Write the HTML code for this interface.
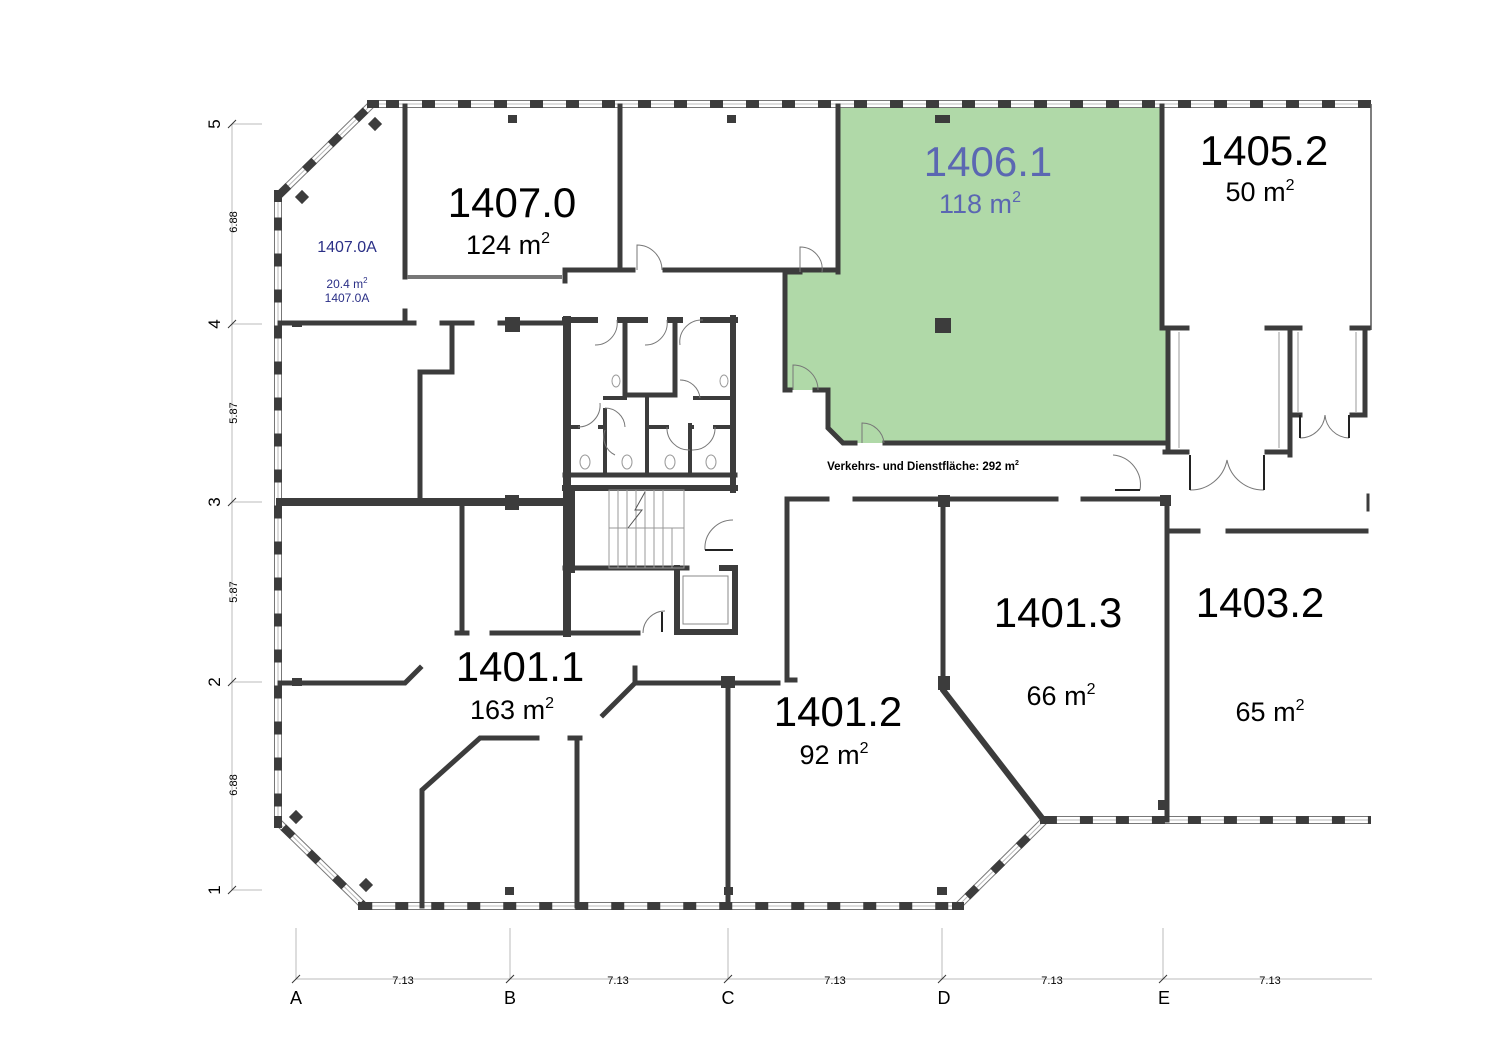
<!DOCTYPE html>
<html><head><meta charset="utf-8"><style>
html,body{margin:0;padding:0;background:#fff;width:1500px;height:1060px;overflow:hidden}
svg{display:block}
text{font-family:"Liberation Sans",Arial,sans-serif}
</style></head><body>
<svg width="1500" height="1060" viewBox="0 0 1500 1060" xmlns="http://www.w3.org/2000/svg">
<!-- green room -->
<polygon points="838,107 1162,107 1162,328 1168,328 1168,443 843,443 828,428 828,390 785,390 785,272 838,272" fill="#b0d9a8"/>

<!-- facade -->
<g fill="none" stroke-linejoin="miter">
<path d="M1371,104 L372,104 L278,196 L278,822 L364,906 L958,906 L1045,820 L1371,820" stroke="#777" stroke-width="8"/>
<path d="M1371,104 L372,104 L278,196 L278,822 L364,906 L958,906 L1045,820 L1371,820" stroke="#fff" stroke-width="6"/>
<path d="M1371,104 L372,104 L278,196 L278,822 L364,906 L958,906 L1045,820 L1371,820" stroke="#bbb" stroke-width="1"/>
<path d="M1371,104 L372,104 L278,196 L278,822 L364,906 L958,906 L1045,820 L1371,820" stroke="#3c3c3c" stroke-width="8" stroke-dasharray="13 23"/>
</g>
<g fill="#3c3c3c">
<rect x="367" y="100" width="12" height="8"/><rect x="274" y="190" width="8" height="12"/><rect x="274" y="816" width="8" height="12"/><rect x="358" y="902" width="12" height="8"/><rect x="952" y="902" width="12" height="8"/><rect x="1040" y="816" width="10" height="8"/>
</g>
<line x1="1371" y1="104" x2="1371" y2="330" stroke="#555" stroke-width="1.5"/>

<!-- interior walls -->
<g stroke="#3c3c3c" stroke-width="5" fill="none" stroke-linecap="square">
<!-- 1407.0 -->
<line x1="405" y1="106" x2="405" y2="277"/>
<line x1="620" y1="106" x2="620" y2="270"/>
<line x1="838" y1="106" x2="838" y2="272"/>
<line x1="565" y1="270" x2="633" y2="270"/>
<line x1="665" y1="270" x2="838" y2="270"/>
<line x1="565" y1="270" x2="565" y2="281"/>
<!-- green room walls -->
<polyline points="1162,106 1162,328"/>
<polyline points="800,272 785,272 785,390 790,390"/>
<polyline points="815,390 828,390 828,428 843,443 855,443"/>
<line x1="885" y1="443" x2="1168" y2="443"/>
<line x1="1168" y1="330" x2="1168" y2="452"/>
<!-- 1405.2 corridor pieces -->
<line x1="1165" y1="328" x2="1187" y2="328"/>
<line x1="1267" y1="328" x2="1300" y2="328"/>
<line x1="1352" y1="328" x2="1368" y2="328"/>
<line x1="1165" y1="452" x2="1187" y2="452"/>
<line x1="1267" y1="452" x2="1290" y2="452"/>
<line x1="1290" y1="328" x2="1290" y2="455"/>
<line x1="1290" y1="415" x2="1300" y2="415"/>
<line x1="1365" y1="328" x2="1365" y2="415"/>
<line x1="1352" y1="415" x2="1365" y2="415"/>
<!-- row 4 -->
<line x1="280" y1="323" x2="414" y2="323"/>
<line x1="405" y1="311" x2="405" y2="323"/>
<line x1="442" y1="323" x2="472" y2="323"/>
<line x1="500" y1="323" x2="565" y2="323"/>
<polyline points="452,323 452,372 420,372 420,502"/>
<!-- row 3 -->
<line x1="280" y1="502" x2="565" y2="502" stroke-width="8"/>
<line x1="462" y1="502" x2="462" y2="633"/>
<line x1="457" y1="633" x2="467" y2="633"/>
<line x1="492" y1="633" x2="638" y2="633"/>
<!-- core -->
<line x1="567" y1="320" x2="567" y2="633" stroke-width="8"/>
<line x1="733" y1="318" x2="733" y2="490" stroke-width="6"/>
<line x1="565" y1="320" x2="595" y2="320" stroke-width="6"/>
<line x1="620" y1="320" x2="645" y2="320" stroke-width="6"/>
<line x1="670" y1="320" x2="680" y2="320" stroke-width="6"/>
<line x1="703" y1="320" x2="735" y2="320" stroke-width="6"/>
<polyline points="625,320 625,395 675,395 675,320" stroke-width="5"/>
<line x1="605" y1="398" x2="625" y2="398" stroke-width="4"/>
<line x1="695" y1="398" x2="733" y2="398" stroke-width="4"/>
<line x1="647" y1="398" x2="647" y2="475" stroke-width="4"/>
<line x1="565" y1="427" x2="578" y2="427" stroke-width="4"/>
<line x1="600" y1="427" x2="605" y2="427" stroke-width="4"/>
<line x1="605" y1="410" x2="605" y2="475" stroke-width="4"/>
<line x1="647" y1="427" x2="667" y2="427" stroke-width="4"/>
<line x1="690" y1="427" x2="692" y2="427" stroke-width="4"/>
<line x1="690" y1="425" x2="690" y2="475" stroke-width="4"/>
<line x1="715" y1="427" x2="733" y2="427" stroke-width="4"/>
<line x1="565" y1="475" x2="735" y2="475" stroke-width="5"/>
<line x1="565" y1="488" x2="735" y2="488" stroke-width="6"/>
<line x1="570" y1="490" x2="570" y2="568" stroke-width="10"/>
<line x1="565" y1="568" x2="687" y2="568" stroke-width="5"/>
<polyline points="677,568 677,632 735,632 735,568 722,568" stroke-width="6"/>
<line x1="562" y1="633" x2="638" y2="633" stroke-width="5"/>
<!-- row 2 -->
<polyline points="280,683 405,683 420,668"/>
<line x1="603" y1="715" x2="635" y2="683"/>
<line x1="635" y1="683" x2="778" y2="683"/>
<line x1="635" y1="668" x2="635" y2="683"/>
<polyline points="537,738 480,738 422,790 422,906"/>
<line x1="570" y1="738" x2="580" y2="738"/>
<line x1="577" y1="738" x2="577" y2="906"/>
<line x1="728" y1="683" x2="728" y2="906"/>
<!-- 1401.2 / 1401.3 -->
<polyline points="795,680 787,680 787,499 827,499"/>
<line x1="855" y1="499" x2="1056" y2="499"/>
<line x1="1083" y1="499" x2="1168" y2="499"/>
<line x1="943" y1="499" x2="943" y2="682"/>
<polyline points="943,685 943,690 1042,818" stroke-width="6"/>
<line x1="1167" y1="499" x2="1167" y2="820"/>
<line x1="1167" y1="531" x2="1198" y2="531"/>
<line x1="1228" y1="531" x2="1366" y2="531"/>
<line x1="1368" y1="495" x2="1368" y2="510" stroke-width="3"/>
</g>
<!-- gray wall 1407.0 -->
<line x1="407" y1="277" x2="562" y2="277" stroke="#777" stroke-width="4"/>

<!-- columns -->
<g fill="#3c3c3c">
<rect x="508" y="115" width="9" height="8"/><rect x="727" y="115" width="9" height="8"/><rect x="935" y="115" width="15" height="8"/>
<rect x="935" y="318" width="16" height="15"/>
<rect x="505" y="317" width="15" height="15"/><rect x="505" y="495" width="14" height="15"/>
<rect x="292" y="321" width="10" height="6"/><rect x="292" y="678" width="10" height="8"/>
<rect x="721" y="676" width="14" height="12"/><rect x="938" y="676" width="12" height="14"/>
<rect x="938" y="495" width="12" height="12"/><rect x="1160" y="495" width="11" height="11"/>
<rect x="505" y="887" width="9" height="8"/><rect x="724" y="887" width="9" height="8"/><rect x="937" y="887" width="10" height="8"/>
<rect x="1158" y="800" width="7" height="10"/>
<rect x="370" y="119" width="10" height="10" transform="rotate(45 375 124)"/>
<rect x="297" y="192" width="10" height="10" transform="rotate(45 302 197)"/>
<rect x="291" y="812" width="10" height="10" transform="rotate(45 296 817)"/>
<rect x="361" y="880" width="10" height="10" transform="rotate(45 366 885)"/>
</g>

<!-- window frames in 1405 -->
<g stroke="#aaa" stroke-width="1.2">
<line x1="1179" y1="332" x2="1179" y2="448"/><line x1="1279" y1="332" x2="1279" y2="448"/>
<line x1="1298" y1="332" x2="1298" y2="412"/><line x1="1356" y1="332" x2="1356" y2="412"/>
</g>
<!-- doors -->
<g fill="none" stroke="#777" stroke-width="1">
<path d="M637,270 L637,245 A25,25 0 0 1 662,270"/>
<path d="M800,272 L800,247 A22,22 0 0 1 822,272"/>
<path d="M793,390 L793,365 A25,25 0 0 1 818,390"/>
<path d="M862,443 L862,423 A22,22 0 0 1 884,443"/>
<path d="M1190,490 A37,37 0 0 0 1227,460 A37,37 0 0 0 1264,490"/>
<path d="M1300,438 A25,25 0 0 0 1325,415 A25,25 0 0 0 1349,438"/>
<path d="M1113,455 A30,30 0 0 1 1140,490"/>
<path d="M705,550 A28,28 0 0 1 733,520"/>
<path d="M643,633 A22,22 0 0 1 665,611"/>
<path d="M595,345 A22,22 0 0 0 617,320"/><path d="M645,345 A22,22 0 0 0 667,320"/><path d="M680,345 A22,22 0 0 1 703,320"/>
<path d="M578,427 A22,22 0 0 0 600,403"/><path d="M605,408 A20,20 0 0 1 625,427"/>
<path d="M680,380 A20,20 0 0 1 700,398"/><path d="M667,427 A22,22 0 0 0 690,450"/><path d="M692,450 A22,22 0 0 0 715,427"/>
<path d="M615,455 A20,20 0 0 1 605,430"/>
</g>
<g stroke="#222" stroke-width="2">
<line x1="1190" y1="455" x2="1190" y2="490"/><line x1="1264" y1="455" x2="1264" y2="490"/>
<line x1="1300" y1="415" x2="1300" y2="438"/><line x1="1349" y1="415" x2="1349" y2="438"/>
<line x1="1115" y1="490" x2="1140" y2="490"/><line x1="705" y1="550" x2="733" y2="550"/>
<line x1="662" y1="612" x2="662" y2="632"/>
</g>
<!-- stairs -->
<g stroke="#999" stroke-width="1">
<rect x="609" y="490" width="75" height="78" fill="none"/>
<line x1="609" y1="528" x2="684" y2="528"/>
<line x1="618" y1="490" x2="618" y2="568"/><line x1="627" y1="490" x2="627" y2="568"/><line x1="636" y1="490" x2="636" y2="568"/><line x1="645" y1="490" x2="645" y2="568"/><line x1="654" y1="490" x2="654" y2="568"/><line x1="663" y1="490" x2="663" y2="568"/><line x1="672" y1="528" x2="672" y2="568"/>
<polyline points="645,492 635,510 642,510 628,528" fill="none" stroke="#555"/>
<rect x="683" y="576" width="45" height="48" fill="none" stroke="#888"/>
</g>
<!-- toilets / sinks -->
<g fill="none" stroke="#999" stroke-width="1">
<ellipse cx="585" cy="462" rx="5" ry="7"/><ellipse cx="627" cy="462" rx="5" ry="7"/><ellipse cx="670" cy="462" rx="5" ry="7"/><ellipse cx="711" cy="462" rx="5" ry="7"/>
<ellipse cx="616" cy="381" rx="4" ry="6"/><ellipse cx="724" cy="381" rx="4" ry="6"/>
</g>

<!-- room labels -->
<g text-anchor="middle">
<text x="512" y="217" font-size="42">1407.0</text>
<text x="508" y="254" font-size="27">124 m<tspan font-size="16" dy="-11">2</tspan></text>
<text x="347" y="252" font-size="16" fill="#2a2f86">1407.0A</text>
<text x="347" y="288" font-size="12" fill="#2a2f86">20.4 m<tspan font-size="8" dy="-5">2</tspan></text>
<text x="347" y="302" font-size="12" fill="#2a2f86">1407.0A</text>
<text x="988" y="176" font-size="42" fill="#5b67b2">1406.1</text>
<text x="980" y="213" font-size="27" fill="#5b67b2">118 m<tspan font-size="16" dy="-11">2</tspan></text>
<text x="1264" y="165" font-size="42">1405.2</text>
<text x="1260" y="201" font-size="27">50 m<tspan font-size="16" dy="-11">2</tspan></text>
<text x="923" y="470" font-size="11.5" font-weight="bold">Verkehrs- und Dienstfläche: 292 m<tspan font-size="7" dy="-5">2</tspan></text>
<text x="520" y="681" font-size="42">1401.1</text>
<text x="512" y="719" font-size="27">163 m<tspan font-size="16" dy="-11">2</tspan></text>
<text x="838" y="726" font-size="42">1401.2</text>
<text x="834" y="764" font-size="27">92 m<tspan font-size="16" dy="-11">2</tspan></text>
<text x="1058" y="627" font-size="42">1401.3</text>
<text x="1061" y="705" font-size="27">66 m<tspan font-size="16" dy="-11">2</tspan></text>
<text x="1260" y="617" font-size="42">1403.2</text>
<text x="1270" y="721" font-size="27">65 m<tspan font-size="16" dy="-11">2</tspan></text>
</g>

<!-- dimensions left -->
<g stroke="#bbb" stroke-width="1">
<line x1="232" y1="124" x2="232" y2="890"/>
<line x1="232" y1="124" x2="262" y2="124"/><line x1="232" y1="324" x2="262" y2="324"/><line x1="232" y1="502" x2="262" y2="502"/><line x1="232" y1="682" x2="262" y2="682"/><line x1="232" y1="890" x2="262" y2="890"/>
<line x1="296" y1="928" x2="296" y2="979"/><line x1="510" y1="928" x2="510" y2="979"/><line x1="728" y1="928" x2="728" y2="979"/><line x1="942" y1="928" x2="942" y2="979"/><line x1="1163" y1="928" x2="1163" y2="979"/>
<line x1="296" y1="979" x2="1372" y2="979"/>
</g>
<g stroke="#333" stroke-width="1">
<line x1="228" y1="128" x2="236" y2="120"/><line x1="228" y1="328" x2="236" y2="320"/><line x1="228" y1="506" x2="236" y2="498"/><line x1="228" y1="686" x2="236" y2="678"/><line x1="228" y1="894" x2="236" y2="886"/>
<line x1="292" y1="983" x2="300" y2="975"/><line x1="506" y1="983" x2="514" y2="975"/><line x1="724" y1="983" x2="732" y2="975"/><line x1="938" y1="983" x2="946" y2="975"/><line x1="1159" y1="983" x2="1167" y2="975"/>
</g>
<g font-size="17" text-anchor="middle">
<text transform="translate(220,124) rotate(-90)">5</text>
<text transform="translate(220,324) rotate(-90)">4</text>
<text transform="translate(220,502) rotate(-90)">3</text>
<text transform="translate(220,682) rotate(-90)">2</text>
<text transform="translate(220,890) rotate(-90)">1</text>
</g>
<g font-size="11" text-anchor="middle">
<text transform="translate(237,222) rotate(-90)">6.88</text>
<text transform="translate(237,413) rotate(-90)">5.87</text>
<text transform="translate(237,592) rotate(-90)">5.87</text>
<text transform="translate(237,785) rotate(-90)">6.88</text>
<text x="403" y="984">7.13</text><text x="618" y="984">7.13</text><text x="835" y="984">7.13</text><text x="1052" y="984">7.13</text><text x="1270" y="984">7.13</text>
</g>
<g font-size="18" text-anchor="middle">
<text x="296" y="1004">A</text><text x="510" y="1004">B</text><text x="728" y="1004">C</text><text x="944" y="1004">D</text><text x="1164" y="1004">E</text>
</g>
</svg>
</body></html>
